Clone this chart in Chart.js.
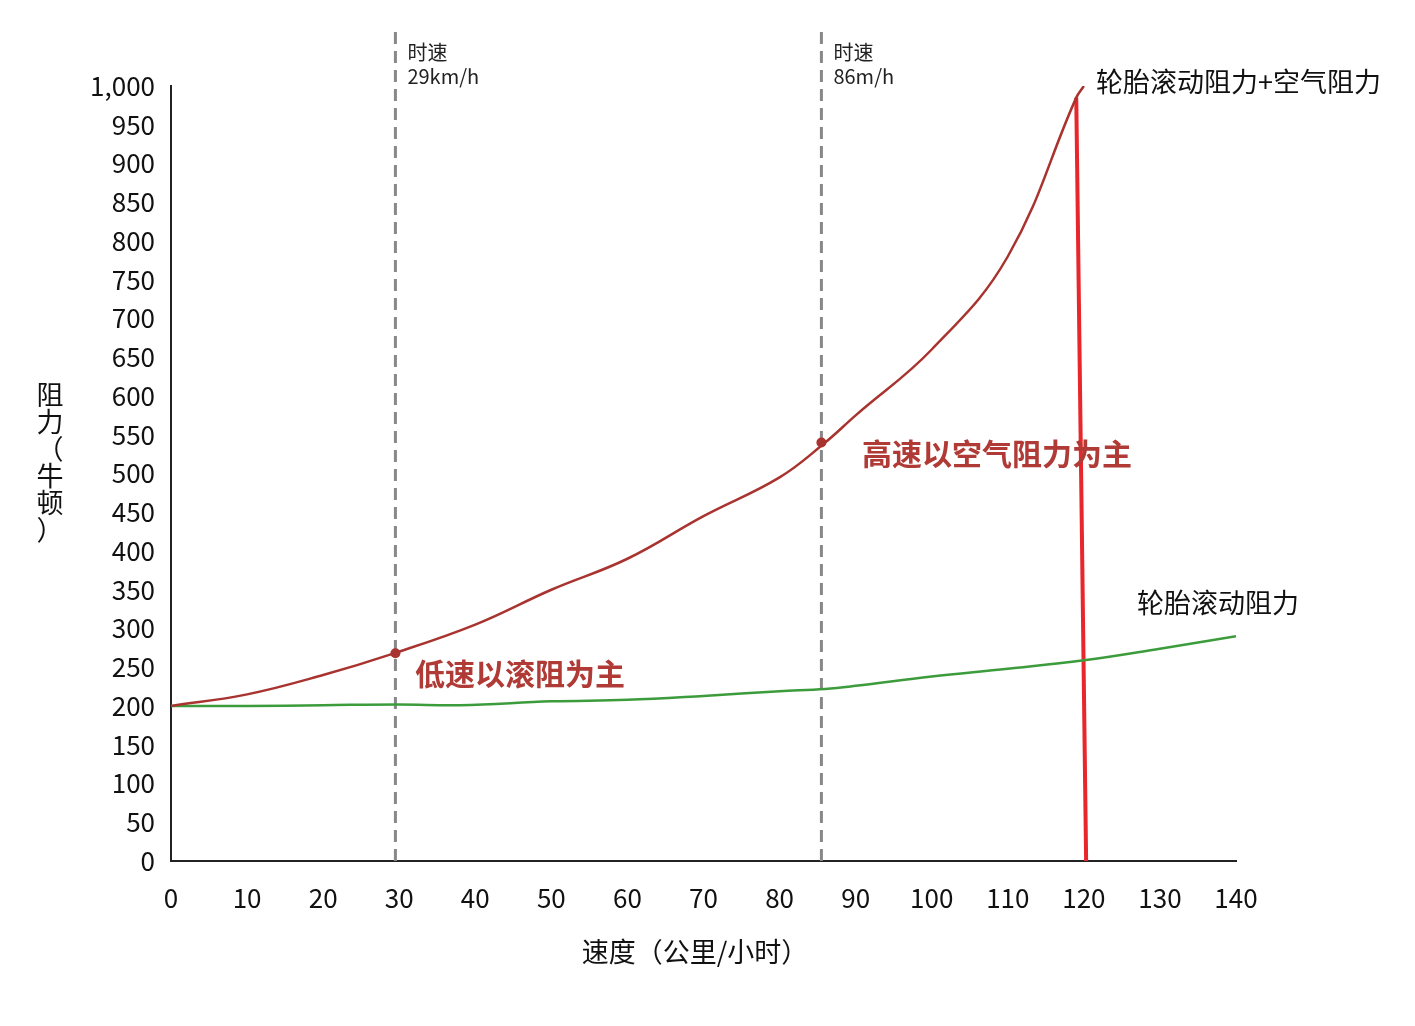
<!DOCTYPE html>
<html><head><meta charset="utf-8">
<script src="https://cdn.jsdelivr.net/npm/chart.js@4/dist/chart.umd.min.js"></script>
<style>html,body{margin:0;background:#fff}#w{width:1415px;height:1026px}</style>
</head><body><div id="w"><canvas id="c"></canvas></div>
<script>
const speeds=[0,10,20,29,40,50,60,70,80,86,90,100,110,119,120];
const totalRes=[200,215,240,267,305,350,390,445,495,540,575,660,780,985,1000];
const greenSpeeds=[0,10,20,30,38,50,60,70,80,86,90,100,110,120,130,140];
const rollRes=[200,200,201,202,201,206,208,213,219,222,226,238,248,259,274,290];
const markSpeeds=[29.5,85.5];
const markVals=[268,540];
const redLine=[{x:119,y:985},{x:120.3,y:0}];
const yTicks=[0,50,100,150,200,250,300,350,400,450,500,550,600,650,700,750,800,850,900,950,1000];
const F='"Noto Sans CJK SC","Noto Sans",sans-serif';
const pts=(xs,ys)=>xs.map((x,i)=>({x,y:ys[i]}));
const deco={id:'deco',
 beforeDatasetsDraw(ch){const c=ch.ctx,xs=ch.scales.x,ys=ch.scales.y;
  c.save();c.strokeStyle='#888';c.lineWidth=3;c.setLineDash([12,7]);
  markSpeeds.forEach(s=>{const px=xs.getPixelForValue(s);c.beginPath();c.moveTo(px,32);c.lineTo(px,ys.getPixelForValue(0));c.stroke();});
  c.restore();},
 afterDraw(ch){const c=ch.ctx,xs=ch.scales.x,ys=ch.scales.y;c.save();
  c.fillStyle='#222';c.font='20px '+F;c.textBaseline='alphabetic';
  [[29.5,'29km/h'],[85.5,'86m/h']].forEach(([s,t])=>{const px=xs.getPixelForValue(s)+12;c.fillText('时速',px,60);c.fillText(t,px,84);});
  c.font='27px '+F;c.fillStyle='#111';
  c.fillText('轮胎滚动阻力+空气阻力',1096,92);
  c.fillText('轮胎滚动阻力',1137,613);
  c.font='bold 30px '+F;c.fillStyle='#b03a35';
  c.fillText('低速以滚阻为主',415,685);c.fillText('高速以空气阻力为主',862,465);
  c.font='27px '+F;c.fillStyle='#111';c.textAlign='center';
  c.fillText('速度（公里/小时）',695,962);
  const ch2=['阻','力','（','牛','顿','）'];ch2.forEach((t,i)=>c.fillText(t,50,405+i*27));
  c.restore();}};
new Chart(document.getElementById('c'),{type:'scatter',
 data:{datasets:[
  {data:pts(speeds,totalRes),showLine:true,borderColor:'#a8332f',borderWidth:2.5,pointRadius:0,tension:0.4},
  {data:pts(greenSpeeds,rollRes),showLine:true,borderColor:'#3c9c3c',borderWidth:2.5,pointRadius:0,tension:0.4},
  {data:pts(markSpeeds,markVals),pointRadius:5,pointBackgroundColor:'#a8332f',pointBorderWidth:0},
  {data:redLine,showLine:true,borderColor:'#e8262b',borderWidth:4,pointRadius:0}]},
 options:{responsive:true,maintainAspectRatio:false,animation:false,
  layout:{padding:{left:0,right:179,top:86,bottom:0}},
  plugins:{legend:{display:false},tooltip:{enabled:false}},
  scales:{
   x:{type:'linear',min:0,max:140,afterFit(s){s.height=165;},
    grid:{display:false,drawTicks:false},border:{color:'#222',width:2},
    ticks:{stepSize:10,color:'#111',font:{size:26,family:F},padding:22}},
   y:{min:0,max:1000,afterFit(s){s.width=171;},afterBuildTicks(s){s.ticks=yTicks.map(v=>({value:v}));},
    grid:{display:false,drawTicks:true,tickLength:10,tickColor:'#222'},border:{color:'#222',width:2},
    ticks:{color:'#111',font:{size:26,family:F},padding:6,callback:v=>v.toLocaleString('en-US')}}}},
 plugins:[deco]});
</script></body></html>
